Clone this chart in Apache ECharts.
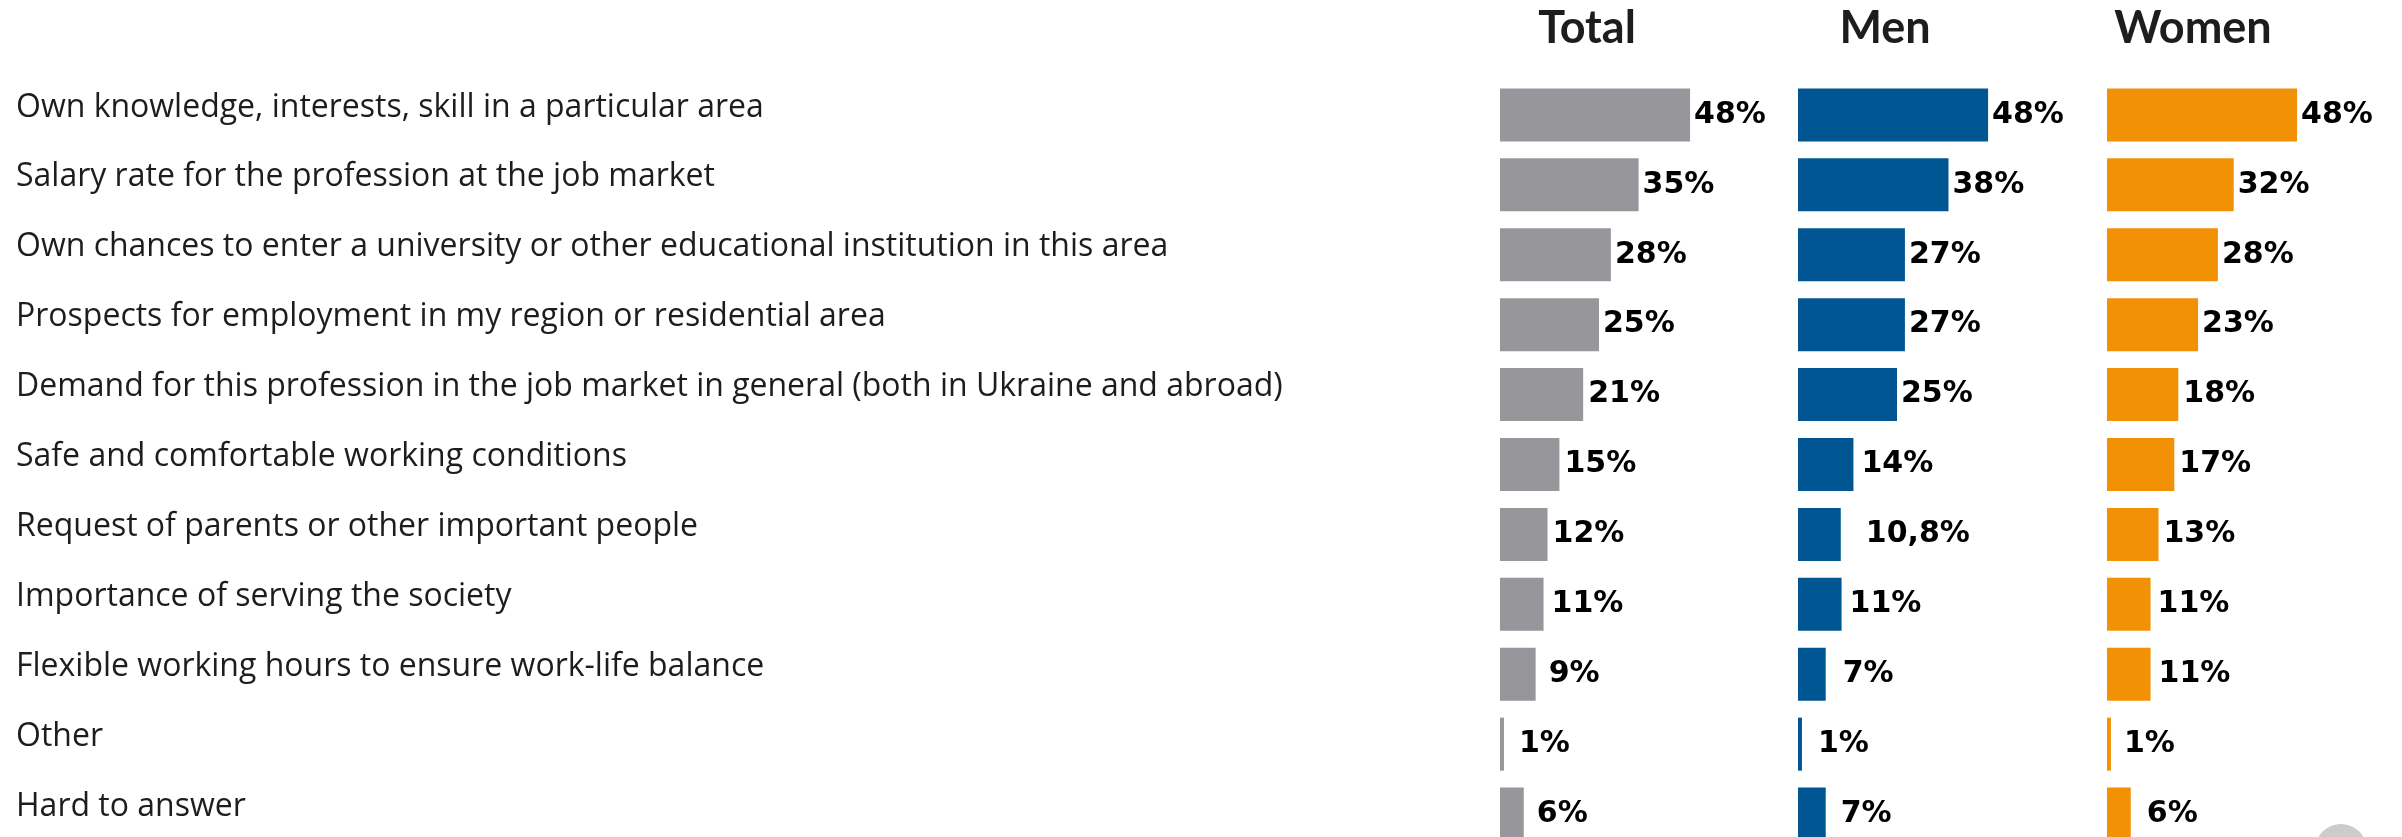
<!DOCTYPE html>
<html>
<head>
<meta charset="utf-8">
<title>Factors in choosing a profession</title>
<script src="https://cdn.jsdelivr.net/npm/echarts@6/dist/echarts.min.js"></script>
<style>
  html, body { margin: 0; padding: 0; background: #ffffff; overflow: hidden; }
  #chart { width: 2402px; height: 860px; }
</style>
</head>
<body>
<div id="chart"></div>
<script>
// Reasons for choosing a profession, share of respondents (%)
const categories = [
  "Own knowledge, interests, skill in a particular area",
  "Salary rate for the profession at the job market",
  "Own chances to enter a university or other educational institution in this area",
  "Prospects for employment in my region or residential area",
  "Demand for this profession in the job market in general (both in Ukraine and abroad)",
  "Safe and comfortable working conditions",
  "Request of parents or other important people",
  "Importance of serving the society",
  "Flexible working hours to ensure work-life balance",
  "Other",
  "Hard to answer"
];
const groupNames = ["Total", "Men", "Women"];
const totalValues = [48, 35, 28, 25, 21, 15, 12, 11, 9, 1, 6];
const menValues   = [48, 38, 27, 27, 25, 14, 10.8, 11, 7, 1, 7];
const womenValues = [48, 32, 28, 23, 18, 17, 13, 11, 11, 1, 6];

// spacing between each bar end and its value label (px)
const totalLabelGap = [4, 4, 4, 4, 5, 5, 5, 8, 13, 15, 13];
const menLabelGap   = [4, 4, 4, 4, 4, 8, 25, 8, 17, 16, 15];
const womenLabelGap = [4, 4, 4, 4, 5, 5, 5, 7, 8, 13, 16];

const colors = ["#97979b", "#005693", "#f29106"];
const columnLeft = [1500, 1798, 2107];
const axisMax = 60;
const pxPerUnit = 3.96;
const gridTop = 80;
const gridHeight = 769;

const fmt = v => String(v).replace('.', ',') + '%';

const valueSets = [totalValues, menValues, womenValues];
const gapSets = [totalLabelGap, menLabelGap, womenLabelGap];

const grids = columnLeft.map(l => ({
  left: l, top: gridTop, width: axisMax * pxPerUnit, height: gridHeight, containLabel: false
}));

const xAxes = columnLeft.map((_, i) => ({
  type: 'value', gridIndex: i, min: 0, max: axisMax, show: false
}));

// category names sit slightly above the bar centre line: an empty
// second text line lifts the first one
const yAxes = columnLeft.map((l, i) => ({
  type: 'category', gridIndex: i, data: categories, inverse: true,
  axisLine: { show: false }, axisTick: { show: false }, splitLine: { show: false },
  axisLabel: i === 0 ? {
    show: true,
    align: 'left',
    margin: l - 16,
    verticalAlign: 'middle',
    formatter: v => '{t|' + v + '}\n{s| }',
    rich: {
      t: { fontFamily: 'Open Sans', fontWeight: 500, fontSize: 32, color: '#1d1d1b', lineHeight: 32 },
      s: { fontSize: 8, lineHeight: 15 }
    }
  } : { show: false }
}));

const series = valueSets.map((vals, i) => ({
  type: 'bar',
  xAxisIndex: i,
  yAxisIndex: i,
  barWidth: 53,
  itemStyle: { color: colors[i] },
  data: vals.map((v, k) => ({
    value: v,
    label: { distance: gapSets[i][k] }
  })),
  label: {
    show: true,
    position: 'right',
    formatter: p => fmt(p.value),
    fontFamily: 'DejaVu Sans',
    fontWeight: 'bold',
    fontSize: 30,
    color: '#000000'
  },
  silent: true,
  animation: false
}));

const headerCenters = [1587, 1885, 2193];
const titles = groupNames.map((name, i) => ({
  text: name,
  left: headerCenters[i],
  top: 6,
  textAlign: 'center',
  padding: 0,
  textStyle: { fontFamily: 'Lato', fontWeight: 'bold', fontSize: 45, color: '#1d1d1b' }
}));

const chart = echarts.init(document.getElementById('chart'), null, { renderer: 'canvas' });
chart.setOption({
  backgroundColor: '#ffffff',
  animation: false,
  title: titles,
  grid: grids,
  xAxis: xAxes,
  yAxis: yAxes,
  series: series,
  graphic: [{
    type: 'circle',
    shape: { cx: 2341, cy: 850, r: 26 },
    style: { fill: '#cccccc' },
    silent: true
  }]
});
</script>
</body>
</html>
